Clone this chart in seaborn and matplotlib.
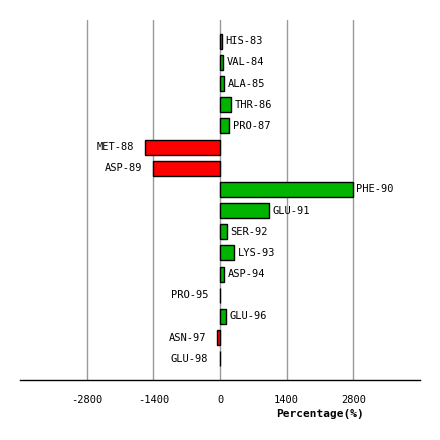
import pandas as pd
import matplotlib
matplotlib.use("Agg")
import matplotlib.pyplot as plt
import seaborn as sns

# values
residues = ["HIS-83", "VAL-84", "ALA-85", "THR-86", "PRO-87", "MET-88", "ASP-89", "PHE-90",
            "GLU-91", "SER-92", "LYS-93", "ASP-94", "PRO-95", "GLU-96", "ASN-97", "GLU-98"]
percent = [40, 70, 90, 237, 195, -1568, -1400, 2790,
           1032, 147, 294, 84, -10, 134, -63, -10]
ticks = [-2800, -1400, 0, 1400, 2800]

df = pd.DataFrame({"residue": residues, "pct": percent})
df["sign"] = ["pos" if v > 0 else "neg" for v in df["pct"]]

sns.set_style("white")
plt.rcParams["font.family"] = ["DejaVu Sans Mono", "DejaVu Sans"]
plt.rcParams["text.color"] = "black"
plt.rcParams["xtick.color"] = "black"
plt.rcParams["axes.labelcolor"] = "black"

fig = plt.figure(figsize=(4.4, 4.4), dpi=100)
ax = fig.add_axes([20 / 440, 60 / 440, 400 / 440, 360 / 440])

sns.barplot(data=df, x="pct", y="residue", hue="sign", orient="h",
            palette={"pos": "#00B400", "neg": "#FF0000"}, dodge=False, legend=False,
            saturation=1, width=0.71, edgecolor="black", linewidth=1, ax=ax)

ax.set_xlim(-4200, 4200)
ax.set_ylim(len(residues), -1)
ax.set_xticks(ticks)
ax.set_xticklabels([str(t) for t in ticks], fontsize=7.5)
ax.set_yticks([])
ax.set_ylabel("")
ax.grid(axis="x", color="#999999", linewidth=1)
ax.set_axisbelow(True)
for s in ["left", "right", "top"]:
    ax.spines[s].set_visible(False)
ax.spines["bottom"].set_color("black")
ax.spines["bottom"].set_linewidth(1)
ax.tick_params(axis="x", length=5, color="#999999", labelcolor="black", pad=6)

for i, (name, v) in enumerate(zip(residues, percent)):
    if v > 0:
        ax.annotate(name, (v, i), xytext=(2.5, 0), textcoords="offset points",
                    ha="left", va="center", fontsize=7.5, color="black")
    else:
        ax.annotate(name, (v, i), xytext=(-8, 0), textcoords="offset points",
                    ha="right", va="center", fontsize=7.5, color="black")

ax.set_xlabel("Percentage(%)", fontsize=8, fontweight="bold", color="black")
ax.xaxis.set_label_coords(0.75, -0.08)

fig.savefig("out.png", dpi=100)
